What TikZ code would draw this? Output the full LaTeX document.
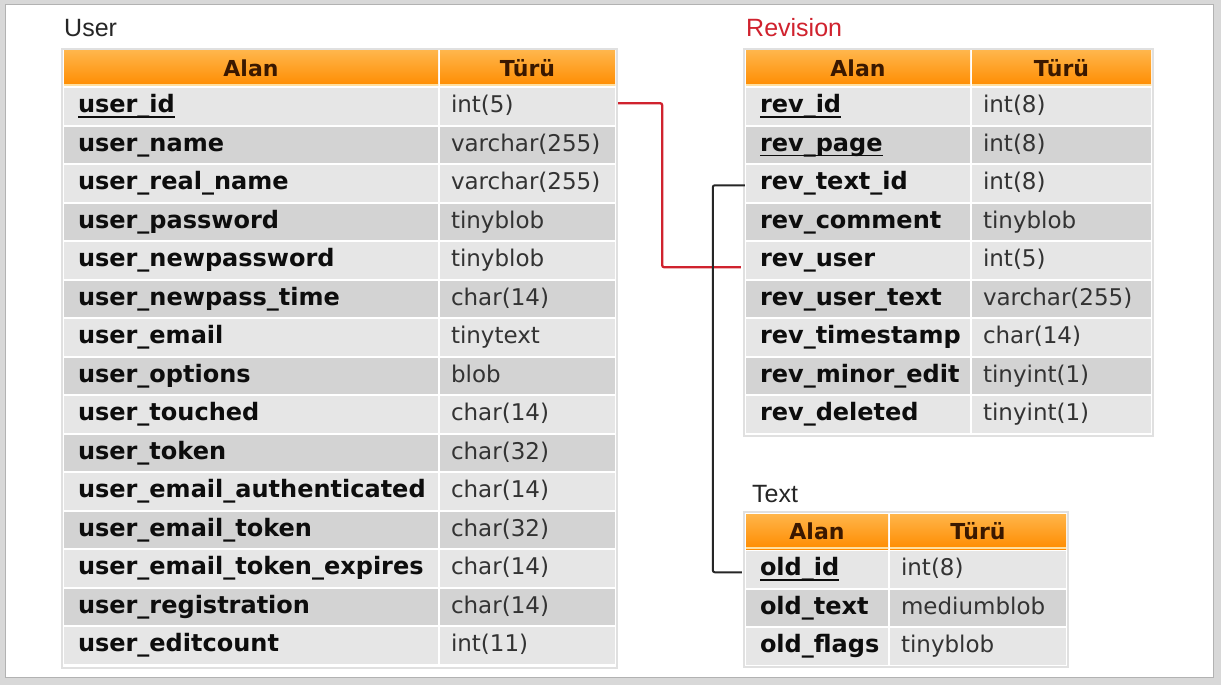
\documentclass[tikz,border=0pt]{standalone}
\usepackage{fontspec}
\setmainfont{DejaVu Sans}
\newfontfamily\titlefont{Liberation Sans}

\definecolor{rowlight}{HTML}{E6E6E6}
\definecolor{rowdark}{HTML}{D3D3D3}
\definecolor{headtop}{HTML}{FFB54A}
\definecolor{headbot}{HTML}{FF8C00}
\definecolor{headline}{HTML}{FFDFA0}
\definecolor{headtext}{HTML}{3A1800}
\definecolor{keyred}{HTML}{D0222E}
\definecolor{framegray}{HTML}{D8D8D8}

% key fields: underline running through the underscore
\newcommand{\keyfld}[1]{\setbox0\hbox{#1}\rlap{\rule[-5pt]{\wd0}{1.6pt}}\box0}

\begin{document}
\begin{tikzpicture}[
x=1pt, y=-1pt,
every node/.style={
inner sep=0pt,
font=\fontsize{23}{27}\selectfont
},
title/.style={anchor=base west, font=\titlefont\fontsize{25}{30}\selectfont, text=black!85},
headcell/.style={rectangle, top color=headtop, bottom color=headbot,
minimum height=35pt, text=headtext, text height=19pt, text depth=3pt,
font=\bfseries\fontsize{22}{26}\selectfont,
path picture={\fill[headline] (path picture bounding box.south west)
rectangle ([yshift=2pt]path picture bounding box.south east);}},
fieldcell/.style={rectangle, inner xsep=14pt, minimum height=36.5pt,
text height=17pt, text depth=4pt,
align=left, text=black!95, font=\bfseries\fontsize{24}{28}\selectfont},
typecell/.style={rectangle, inner xsep=11pt, minimum height=36.5pt,
text height=17pt, text depth=4pt,
align=left, text=black!80},
tableframe/.style={fill=white, draw=black!12, line width=1.5pt},
redlink/.style={draw=keyred, line width=2.3pt, rounded corners=2pt,
shorten <=3pt, shorten >=5pt},
blacklink/.style={draw=black!85, line width=2pt, rounded corners=2pt,
shorten <=1pt, shorten >=4pt}
]

% =====================================================
% Frame
% =====================================================

\fill [framegray] (0,0) rectangle (1221,685);
\draw [fill=white, draw=black!30] (5,4) rectangle (1213,677);

% =====================================================
% Titles
% =====================================================

\node (user-title) [title] at (64,37) {User};
\node (rev-title) [title, text=keyred] at (746,37) {Revision};
\node (txt-title) [title] at (752,502) {Text};

% =====================================================
% User table
% =====================================================

\draw [tableframe] (62,49) rectangle (617,668);

\node (user-h1) [headcell, minimum width=374pt] at (251,68.5) {Alan};
\node (user-h2) [headcell, minimum width=175pt] at (527.5,68.5) {Türü};

\foreach \fld/\typ [count=\i] in {
\keyfld{user\_id}/int(5),
user\_name/varchar(255),
user\_real\_name/varchar(255),
user\_password/tinyblob,
user\_newpassword/tinyblob,
user\_newpass\_time/char(14),
user\_email/tinytext,
user\_options/blob,
user\_touched/char(14),
user\_token/char(32),
user\_email\_authenticated/char(14),
user\_email\_token/char(32),
user\_email\_token\_expires/char(14),
user\_registration/char(14),
user\_editcount/int(11)}
{
\ifodd\i \def\rowcol{rowlight}\else \def\rowcol{rowdark}\fi
\node (user-f\i) [fieldcell, fill=\rowcol, text width=346pt]
at (251,87+38.5*\i-19.25) {\fld};
\node (user-t\i) [typecell, fill=\rowcol, text width=153pt]
at (527.5,87+38.5*\i-19.25) {\typ};
}

% =====================================================
% Revision table
% =====================================================

\draw [tableframe] (744,49) rectangle (1153,436);

\node (rev-h1) [headcell, minimum width=224pt] at (858,68.5) {Alan};
\node (rev-h2) [headcell, minimum width=179pt] at (1061.5,68.5) {Türü};

\foreach \fld/\typ [count=\i] in {
\keyfld{rev\_id}/int(8),
\keyfld{rev\_page}/int(8),
rev\_text\_id/int(8),
rev\_comment/tinyblob,
rev\_user/int(5),
rev\_user\_text/varchar(255),
rev\_timestamp/char(14),
rev\_minor\_edit/tinyint(1),
rev\_deleted/tinyint(1)}
{
\ifodd\i \def\rowcol{rowlight}\else \def\rowcol{rowdark}\fi
\node (rev-f\i) [fieldcell, fill=\rowcol, text width=196pt]
at (858,87+38.5*\i-19.25) {\fld};
\node (rev-t\i) [typecell, fill=\rowcol, text width=157pt]
at (1061.5,87+38.5*\i-19.25) {\typ};
}

% =====================================================
% Text table
% =====================================================

\draw [tableframe] (744,512) rectangle (1068,667);

\node (txt-h1) [headcell, minimum width=142pt] at (817,531.5) {Alan};
\node (txt-h2) [headcell, minimum width=176pt] at (978,531.5) {Türü};

\foreach \fld/\typ [count=\i] in {
\keyfld{old\_id}/int(8),
old\_text/mediumblob,
old\_flags/tinyblob}
{
\ifodd\i \def\rowcol{rowlight}\else \def\rowcol{rowdark}\fi
\node (txt-f\i) [fieldcell, fill=\rowcol, text width=114pt]
at (817,550+38.5*\i-19.25) {\fld};
\node (txt-t\i) [typecell, fill=\rowcol, text width=154pt]
at (978,550+38.5*\i-19.25) {\typ};
}

% =====================================================
% Links
% =====================================================

\draw [redlink] ([yshift=3pt]user-t1.east) -- ++(47,0) |- ([yshift=-7pt]rev-f5.west);

\draw [blacklink] ([yshift=-2pt]rev-f3.west) -- ++(-33,0) |- ([yshift=-3pt]txt-f1.west);

\end{tikzpicture}
\end{document}
